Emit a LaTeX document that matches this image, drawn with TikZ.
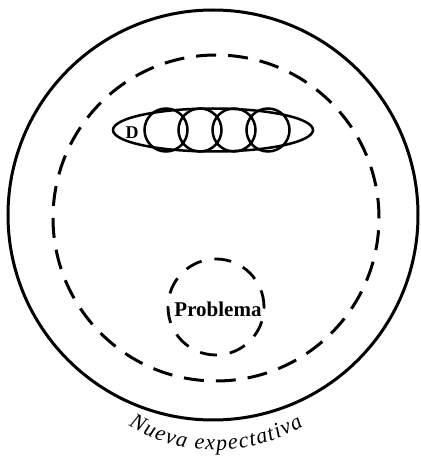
\documentclass[tikz,border=0pt]{standalone}
\usepackage{fontspec}
\setmainfont{Liberation Serif}
\usetikzlibrary{decorations.text}
\begin{document}
\begin{tikzpicture}[
  solidline/.style={line width=3pt},
  dashline/.style={line width=3pt, dash pattern=on 20pt off 12pt},
  smalldash/.style={line width=2.8pt, dash pattern=on 17pt off 13pt},
  thinline/.style={line width=2.5pt},
  lbl/.style={inner sep=0pt, font=\bfseries\fontsize{21}{21}\selectfont}
]
\useasboundingbox (0pt,0pt) rectangle (421pt,456pt);
% outer circle
\draw[solidline] (213pt,241pt) circle[radius=205pt];
% dashed circle
\draw[dashline] (216pt,238pt) circle[radius=163pt];
% elongated ellipse with circles
\draw[thinline] (213pt,326pt) ellipse[x radius=100pt, y radius=21.5pt];
\foreach \cx in {166,200,234,268}{
  \draw[thinline] (\cx pt,326pt) circle[radius=21.5pt];
}
\node[inner sep=0pt, font=\bfseries\fontsize{18}{18}\selectfont] (d) at (132pt,323pt) {D};
% problem circle
\draw[smalldash] (216pt,149pt) circle[radius=48pt];
\node[lbl] (prob) at (218pt,147pt) {Problema};
% curved label
\path[decorate, decoration={text along path, text align={fit to path},
  text={|\itshape\fontsize{22}{22}\selectfont|Nueva expectativa}}]
  (216pt,176pt) ++(239:170pt) arc[start angle=239, end angle=301, radius=170pt];
\end{tikzpicture}
\end{document}
